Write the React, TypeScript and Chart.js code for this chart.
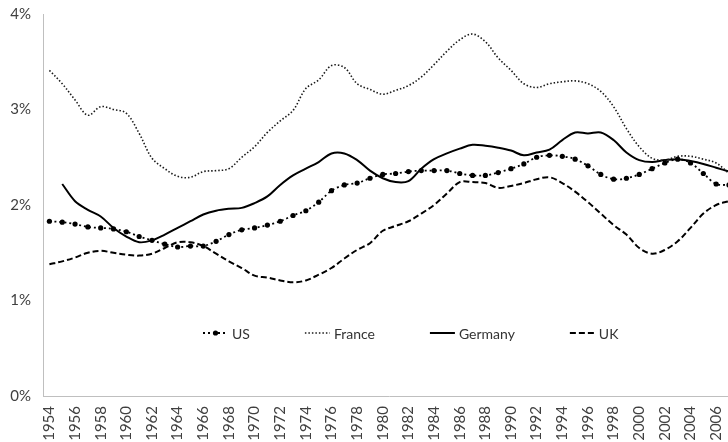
import React, { useEffect, useRef } from "react";
import { Chart, registerables } from "chart.js";

Chart.register(...registerables);

const years: string[] = [];
for (let y = 1954; y <= 2007; y++) years.push(String(y));

const usValues = [
  1.83, 1.82, 1.8, 1.77, 1.76, 1.75, 1.72, 1.67, 1.63, 1.59,
  1.56, 1.57, 1.57, 1.62, 1.69, 1.74, 1.76, 1.79, 1.83, 1.89,
  1.94, 2.03, 2.15, 2.21, 2.23, 2.28, 2.32, 2.33, 2.35, 2.36,
  2.36, 2.36, 2.33, 2.31, 2.31, 2.34, 2.38, 2.43, 2.5, 2.52,
  2.51, 2.48, 2.41, 2.32, 2.27, 2.28, 2.32, 2.38, 2.44, 2.48,
  2.44, 2.33, 2.22, 2.21,
];

const franceValues = [
  3.41, 3.27, 3.1, 2.94, 3.03, 3.0, 2.96, 2.75, 2.49, 2.38,
  2.3, 2.29, 2.35, 2.36, 2.38, 2.5, 2.61, 2.76, 2.88, 2.99,
  3.22, 3.31, 3.46, 3.44, 3.27, 3.21, 3.16, 3.2, 3.25, 3.34,
  3.47, 3.61, 3.73, 3.79, 3.71, 3.54, 3.41, 3.27, 3.23, 3.27,
  3.29, 3.3, 3.27, 3.19, 3.03, 2.8, 2.61, 2.49, 2.47, 2.51,
  2.51, 2.48, 2.44, 2.33,
];

const germanyValues: (number | null)[] = [
  null, 2.22, 2.04, 1.95, 1.88, 1.76, 1.67, 1.61, 1.63, 1.69,
  1.76, 1.83, 1.9, 1.94, 1.96, 1.97, 2.02, 2.09, 2.21, 2.31,
  2.38, 2.45, 2.54, 2.54, 2.47, 2.36, 2.28, 2.24, 2.25, 2.38,
  2.48, 2.54, 2.59, 2.63, 2.62, 2.6, 2.57, 2.52, 2.55, 2.58,
  2.68, 2.76, 2.75, 2.76, 2.68, 2.55, 2.47, 2.45, 2.47, 2.48,
  2.46, 2.43, 2.39, 2.35,
];

const ukValues = [
  1.38, 1.41, 1.45, 1.5, 1.52, 1.5, 1.48, 1.47, 1.49, 1.55,
  1.61, 1.61, 1.57, 1.49, 1.41, 1.34, 1.26, 1.24, 1.21, 1.19,
  1.21, 1.27, 1.34, 1.44, 1.53, 1.6, 1.73, 1.78, 1.83, 1.91,
  2.0, 2.12, 2.24, 2.24, 2.23, 2.18, 2.2, 2.23, 2.27, 2.29,
  2.23, 2.14, 2.03, 1.91, 1.79, 1.69, 1.55, 1.49, 1.53, 1.62,
  1.76, 1.91, 2.0, 2.04,
];

const yTicks = [0, 1, 2, 3, 4];

const FONT = "Lato, 'Open Sans', sans-serif";
const TEXT_COLOR = "#404040";
const AXIS_COLOR = "#bfbfbf";

const insideLegend = {
  id: "insideLegend",
  afterDraw(chart: any) {
    const ctx = chart.ctx as CanvasRenderingContext2D;
    const area = chart.chartArea;
    const y = area.bottom - 63;
    let x = area.left + 160;
    ctx.save();
    ctx.font = `14px ${FONT}`;
    ctx.textBaseline = "middle";
    ctx.textAlign = "left";
    chart.data.datasets.forEach((ds: any) => {
      const sw = 25;
      ctx.strokeStyle = ds.borderColor;
      ctx.lineWidth = ds.borderWidth;
      ctx.setLineDash(ds.borderDash || []);
      ctx.beginPath();
      ctx.moveTo(x, y);
      ctx.lineTo(x + sw, y);
      ctx.stroke();
      if (ds.pointRadius > 0) {
        ctx.setLineDash([]);
        ctx.fillStyle = ds.pointBackgroundColor;
        ctx.beginPath();
        ctx.arc(x + sw / 2, y, ds.pointRadius, 0, Math.PI * 2);
        ctx.fill();
      }
      ctx.fillStyle = "#333333";
      ctx.fillText(ds.label, x + sw + 4, y + 1);
      x += sw + 4 + ctx.measureText(ds.label).width + 55;
    });
    ctx.restore();
  },
};

export default function App() {
  const canvasRef = useRef<HTMLCanvasElement | null>(null);

  useEffect(() => {
    document.body.style.margin = "0";
    const canvas = canvasRef.current;
    if (!canvas) return;
    const chart = new Chart(canvas, {
      type: "line",
      data: {
        labels: years,
        datasets: [
          {
            label: "US",
            data: usValues,
            borderColor: "#000000",
            borderWidth: 1.8,
            borderDash: [2, 3],
            pointRadius: 2.6,
            pointBackgroundColor: "#000000",
            pointBorderWidth: 0,
            pointHoverRadius: 2.6,
            tension: 0.35,
          },
          {
            label: "France",
            data: franceValues,
            borderColor: "#1a1a1a",
            borderWidth: 1.6,
            borderDash: [1.5, 2],
            pointRadius: 0,
            tension: 0.35,
          },
          {
            label: "Germany",
            data: germanyValues,
            borderColor: "#000000",
            borderWidth: 2,
            borderDash: [],
            pointRadius: 0,
            tension: 0.35,
          },
          {
            label: "UK",
            data: ukValues,
            borderColor: "#000000",
            borderWidth: 2,
            borderDash: [6, 3],
            pointRadius: 0,
            tension: 0.35,
          },
        ],
      },
      options: {
        responsive: false,
        maintainAspectRatio: false,
        animation: false,
        devicePixelRatio: 1,
        layout: { padding: { top: 14, right: 0, left: 0, bottom: 0 } },
        plugins: {
          legend: { display: false },
          tooltip: { enabled: false },
        },
        scales: {
          x: {
            type: "category",
            offset: true,
            grid: { display: false, drawTicks: false },
            border: { color: AXIS_COLOR, width: 1 },
            afterFit: (s: any) => {
              s.height = 46;
              s.paddingLeft = 0;
              s.paddingRight = 0;
            },
            ticks: {
              autoSkip: false,
              maxRotation: 90,
              minRotation: 90,
              padding: 10,
              color: TEXT_COLOR,
              font: { family: FONT, size: 15 },
              callback: (_v: any, i: number) => (i % 2 === 0 ? years[i] : ""),
            },
          },
          y: {
            min: yTicks[0],
            max: yTicks[yTicks.length - 1],
            grid: { display: false, drawTicks: false },
            border: { color: AXIS_COLOR, width: 1 },
            afterFit: (s: any) => {
              s.width = 43;
              s.paddingTop = 0;
              s.paddingBottom = 0;
            },
            ticks: {
              stepSize: 1,
              padding: 12,
              color: TEXT_COLOR,
              font: { family: FONT, size: 15 },
              callback: (v: any) => `${v}%`,
            },
          },
        },
      },
      plugins: [insideLegend],
    });
    return () => chart.destroy();
  }, []);

  return (
    <div
      style={{
        position: "absolute",
        left: 0,
        top: 0,
        width: 728,
        height: 442,
        overflow: "hidden",
        background: "#ffffff",
      }}
    >
      <canvas ref={canvasRef} width={738} height={442} style={{ display: "block" }} />
    </div>
  );
}
